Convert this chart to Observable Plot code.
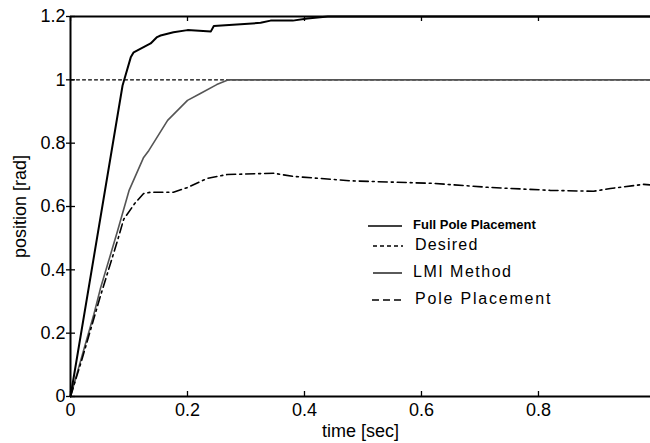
<!DOCTYPE html>
<html>
<head>
<meta charset="utf-8">
<script src="https://cdn.jsdelivr.net/npm/d3@7"></script>
<script src="https://cdn.jsdelivr.net/npm/@observablehq/plot@0.6"></script>
<style>
  html, body { margin: 0; padding: 0; background: #fff; }
  #wrap { position: relative; width: 650px; height: 443px; overflow: hidden; font-family: "Liberation Sans", Arial, sans-serif; }
  .leg { position: absolute; left: 0; top: 0; }
</style>
</head>
<body>
<div id="wrap"></div>
<script>
// ---- data ----
const xTicks = [0, 0.2, 0.4, 0.6, 0.8];
const yTicks = [0, 0.2, 0.4, 0.6, 0.8, 1, 1.2];

const desiredT = [0, 0.9915];
const desiredY = [1, 1];

const fullT = [0, 0.089, 0.103, 0.108, 0.137, 0.148, 0.154, 0.176, 0.2, 0.24, 0.245, 0.325, 0.342, 0.38, 0.405, 0.44, 0.9915];
const fullY = [0, 0.982, 1.071, 1.087, 1.115, 1.135, 1.14, 1.15, 1.157, 1.153, 1.17, 1.18, 1.187, 1.187, 1.194, 1.2, 1.2];

const lmiT = [0, 0.02, 0.04, 0.051, 0.08, 0.1, 0.125, 0.134, 0.166, 0.2, 0.222, 0.25, 0.27, 0.3, 0.5, 0.7, 0.9, 0.9915];
const lmiY = [0, 0.13, 0.26, 0.34, 0.52, 0.65, 0.755, 0.777, 0.872, 0.935, 0.957, 0.985, 1.0, 1.0, 1.0, 1.0, 1.0, 1.0];

const ppT = [0, 0.02, 0.05, 0.08, 0.091, 0.11, 0.125, 0.137, 0.176, 0.2, 0.234, 0.268, 0.347, 0.381, 0.48, 0.62, 0.718, 0.82, 0.894, 0.923, 0.98, 0.9915];
const ppY = [0, 0.12, 0.31, 0.49, 0.56, 0.61, 0.641, 0.645, 0.645, 0.66, 0.689, 0.701, 0.705, 0.695, 0.681, 0.673, 0.66, 0.651, 0.648, 0.657, 0.67, 0.668];

const legendLabels = ["Full Pole Placement", "Desired", "LMI Method", "Pole Placement"];

// ---- build tables ----
const toRows = (T, Y) => T.map((t, i) => ({t, y: Y[i]}));
const full = toRows(fullT, fullY);
const desired = toRows(desiredT, desiredY);
const lmi = toRows(lmiT, lmiY);
const pp = toRows(ppT, ppY);
const fmt = d => String(d);

const chart = Plot.plot({
  width: 650,
  height: 443,
  marginLeft: 70,
  marginRight: 0,
  marginTop: 16,
  marginBottom: 47,
  x: {domain: [0, 0.9915]},
  y: {domain: [0, 1.2]},
  style: {fontFamily: "'Liberation Sans', Arial, sans-serif", fontSize: "18px", color: "#000", background: "#fff", overflow: "visible"},
  marks: [
    // tick labels
    Plot.axisX({ticks: xTicks, tickFormat: fmt, tickSize: 0, tickPadding: 7, fontSize: 18, label: "time [sec]", labelAnchor: "center", labelOffset: 40, labelArrow: "none"}),
    Plot.axisY({ticks: yTicks, tickFormat: fmt, tickSize: 0, tickPadding: 5, fontSize: 18, label: "position [rad]", labelAnchor: "center", labelOffset: 57, labelArrow: "none"}),
    // inward ticks
    Plot.ruleX(xTicks, {y1: 0, y2: 0, insetTop: -5, stroke: "#000", strokeWidth: 1.3}),
    Plot.ruleX(xTicks, {y1: 1.2, y2: 1.2, insetBottom: -5, stroke: "#000", strokeWidth: 1.3}),
    Plot.ruleY(yTicks, {x1: 0, x2: 0, insetRight: -5, insetLeft: -4, stroke: "#000", strokeWidth: 1.3}),
    // frame (top, left, bottom)
    Plot.ruleY([0, 1.2], {stroke: "#000", strokeWidth: 2}),
    Plot.ruleX([0], {stroke: "#000", strokeWidth: 2}),
    // series
    Plot.line(desired, {x: "t", y: "y", stroke: "#000", strokeWidth: 1.2, strokeDasharray: "3,3"}),
    Plot.line(lmi, {x: "t", y: "y", stroke: "#555", strokeWidth: 1.6}),
    Plot.line(pp, {x: "t", y: "y", stroke: "#000", strokeWidth: 1.6, strokeDasharray: "9,4,2,4"}),
    Plot.line(full, {x: "t", y: "y", stroke: "#000", strokeWidth: 2})
  ]
});

const wrap = document.getElementById("wrap");
wrap.appendChild(chart);

// ---- legend overlay ----
const legendStyles = [
  {y: 226, x1: 368, x2: 402, dash: null, font: "bold 13px 'Liberation Sans', Arial, sans-serif", ls: "0px", tx: 413},
  {y: 246, x1: 373, x2: 403, dash: "4,3", font: "16px 'Liberation Sans', Arial, sans-serif", ls: "1.2px", tx: 415},
  {y: 273, x1: 373, x2: 402, dash: null, font: "16px 'Liberation Sans', Arial, sans-serif", ls: "1.5px", tx: 413},
  {y: 300, x1: 372, x2: 405, dash: "7,4", font: "16px 'Liberation Sans', Arial, sans-serif", ls: "1.8px", tx: 415}
];
const ns = "http://www.w3.org/2000/svg";
const leg = document.createElementNS(ns, "svg");
leg.setAttribute("class", "leg");
leg.setAttribute("width", 650);
leg.setAttribute("height", 443);
legendLabels.forEach((lab, i) => {
  const s = legendStyles[i];
  const ln = document.createElementNS(ns, "line");
  ln.setAttribute("x1", s.x1); ln.setAttribute("x2", s.x2);
  ln.setAttribute("y1", s.y); ln.setAttribute("y2", s.y);
  ln.setAttribute("stroke", "#000");
  ln.setAttribute("stroke-width", 1.3);
  if (s.dash) ln.setAttribute("stroke-dasharray", s.dash);
  leg.appendChild(ln);
  const tx = document.createElementNS(ns, "text");
  tx.setAttribute("x", s.tx);
  tx.setAttribute("y", s.y);
  tx.setAttribute("dominant-baseline", "middle");
  tx.setAttribute("style", `font: ${s.font}; letter-spacing: ${s.ls}; fill: #000;`);
  tx.textContent = lab;
  leg.appendChild(tx);
});
wrap.appendChild(leg);
</script>
</body>
</html>
